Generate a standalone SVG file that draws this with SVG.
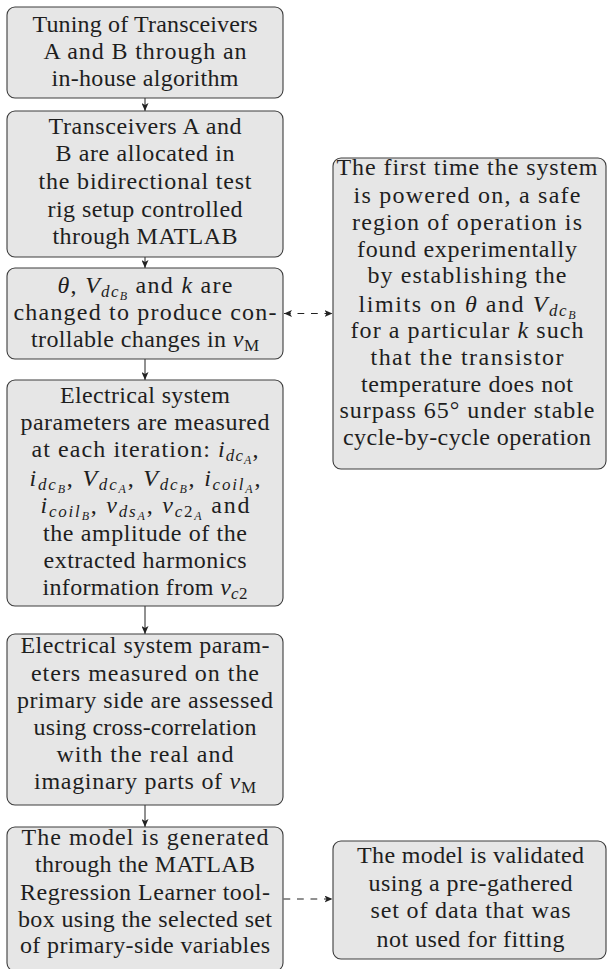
<svg xmlns="http://www.w3.org/2000/svg" width="607" height="969" viewBox="0 0 607 969">
<style>
.box{fill:#e6e6e6;stroke:#3c3c3c;stroke-width:1.1}
text{font-family:"Liberation Serif","Times New Roman",serif;font-size:24px;fill:#1e1e1e;text-anchor:middle}
.i{font-style:italic}
.s1{font-size:17px}
.s2{font-size:12px}
.c{stroke:#222;stroke-width:1;fill:none}
.d{stroke-dasharray:6.75 6.75}
</style>
<defs>
<marker id="ah" viewBox="0 0 8 7" markerWidth="8" markerHeight="7" markerUnits="userSpaceOnUse" refX="8" refY="3.5" orient="auto-start-reverse">
<path d="M0,0 L8,3.5 L0,7 L2,3.5 z" fill="#222"/>
</marker>
</defs>
<rect width="607" height="969" fill="#fff"/>
<g id="connectors">
<line class="c" x1="145" y1="98" x2="145" y2="111" marker-end="url(#ah)"/>
<line class="c" x1="145" y1="257" x2="145" y2="268" marker-end="url(#ah)"/>
<line class="c" x1="145" y1="359" x2="145" y2="380" marker-end="url(#ah)"/>
<line class="c" x1="145" y1="606" x2="145" y2="634" marker-end="url(#ah)"/>
<line class="c" x1="145" y1="805" x2="145" y2="827" marker-end="url(#ah)"/>
<line class="c d" x1="284" y1="313.5" x2="332.5" y2="313.5" marker-start="url(#ah)" marker-end="url(#ah)"/>
<line class="c d" x1="283.5" y1="899" x2="332.5" y2="899" marker-end="url(#ah)"/>
</g>
<g id="n1">
<rect class="box" x="7" y="7" width="276" height="91" rx="8"/>
<text x="145" y="31.5" textLength="225">Tuning of Transceivers</text>
<text x="145" y="58.5" textLength="203">A and B through an</text>
<text x="145" y="85.5" textLength="187">in-house algorithm</text>
</g>
<g id="n2">
<rect class="box" x="7" y="111" width="276" height="146" rx="8"/>
<text x="145" y="133.5" textLength="193">Transceivers A and</text>
<text x="145" y="161" textLength="179">B are allocated in</text>
<text x="145" y="188.7" textLength="213">the bidirectional test</text>
<text x="145" y="216.5" textLength="195">rig setup controlled</text>
<text x="145" y="244" textLength="185">through MATLAB</text>
</g>
<g id="n3">
<rect class="box" x="7" y="268" width="276" height="91" rx="8"/>
<text x="145" y="293.3" textLength="175"><tspan class="i">θ</tspan>, <tspan class="i">V</tspan><tspan class="i s1" dy="4">dc</tspan><tspan class="i s2" dy="3">B</tspan><tspan dy="-7"> and </tspan><tspan class="i">k</tspan> are</text>
<text x="145" y="320" textLength="263">changed to produce con-</text>
<text x="145" y="346.7" textLength="228">trollable changes in <tspan class="i">v</tspan><tspan class="s1" dy="4">M</tspan></text>
</g>
<g id="n4">
<rect class="box" x="7" y="380" width="276" height="226" rx="8"/>
<text x="145" y="402.7" textLength="170">Electrical system</text>
<text x="145" y="430" textLength="249">parameters are measured</text>
<text x="145" y="457" textLength="227">at each iteration: <tspan class="i">i</tspan><tspan class="i s1" dy="4">dc</tspan><tspan class="i s2" dy="3">A</tspan><tspan dy="-7">,</tspan></text>
<text x="145" y="485.5" textLength="231"><tspan class="i">i</tspan><tspan class="i s1" dy="4">dc</tspan><tspan class="i s2" dy="3">B</tspan><tspan dy="-7">, </tspan><tspan class="i">V</tspan><tspan class="i s1" dy="4">dc</tspan><tspan class="i s2" dy="3">A</tspan><tspan dy="-7">, </tspan><tspan class="i">V</tspan><tspan class="i s1" dy="4">dc</tspan><tspan class="i s2" dy="3">B</tspan><tspan dy="-7">, </tspan><tspan class="i">i</tspan><tspan class="i s1" dy="4">coil</tspan><tspan class="i s2" dy="3">A</tspan><tspan dy="-7">,</tspan></text>
<text x="145" y="513.3" textLength="209"><tspan class="i">i</tspan><tspan class="i s1" dy="4">coil</tspan><tspan class="i s2" dy="3">B</tspan><tspan dy="-7">, </tspan><tspan class="i">v</tspan><tspan class="i s1" dy="4">ds</tspan><tspan class="i s2" dy="3">A</tspan><tspan dy="-7">, </tspan><tspan class="i">v</tspan><tspan class="i s1" dy="4">c</tspan><tspan class="s1">2</tspan><tspan class="i s2" dy="3">A</tspan><tspan dy="-7"> and</tspan></text>
<text x="145" y="541" textLength="204">the amplitude of the</text>
<text x="145" y="568.3" textLength="203">extracted harmonics</text>
<text x="145" y="595" textLength="205">information from <tspan class="i">v</tspan><tspan class="i s1" dy="4">c</tspan><tspan class="s1">2</tspan></text>
</g>
<g id="n5">
<rect class="box" x="7" y="634" width="276" height="171" rx="8"/>
<text x="145" y="653.3" textLength="249">Electrical system param-</text>
<text x="145" y="680.7" textLength="228">eters measured on the</text>
<text x="145" y="708.3" textLength="256">primary side are assessed</text>
<text x="145" y="735" textLength="223">using cross-correlation</text>
<text x="145" y="761.7" textLength="177">with the real and</text>
<text x="145" y="789.3" textLength="222">imaginary parts of <tspan class="i">v</tspan><tspan class="s1" dy="4">M</tspan></text>
</g>
<g id="n6">
<rect class="box" x="7" y="827" width="276" height="144" rx="8"/>
<text x="145" y="845" textLength="247">The model is generated</text>
<text x="145" y="871.7" textLength="220">through the MATLAB</text>
<text x="145" y="899.5" textLength="250">Regression Learner tool-</text>
<text x="145" y="926.7" textLength="254">box using the selected set</text>
<text x="145" y="953.3" textLength="250">of primary-side variables</text>
</g>
<g id="n7">
<rect class="box" x="333" y="158" width="273" height="311" rx="8"/>
<text x="467" y="175" textLength="261">The first time the system</text>
<text x="467" y="203" textLength="227">is powered on, a safe</text>
<text x="467" y="230" textLength="230">region of operation is</text>
<text x="467" y="256.7" textLength="220">found experimentally</text>
<text x="467" y="283.3" textLength="199">by establishing the</text>
<text x="467" y="311.5" textLength="217">limits on <tspan class="i">θ</tspan> and <tspan class="i">V</tspan><tspan class="i s1" dy="4">dc</tspan><tspan class="i s2" dy="3">B</tspan></text>
<text x="467" y="338.3" textLength="233">for a particular <tspan class="i">k</tspan> such</text>
<text x="467" y="365" textLength="193">that the transistor</text>
<text x="467" y="391.7" textLength="212">temperature does not</text>
<text x="467" y="418.3" textLength="255">surpass 65° under stable</text>
<text x="467" y="445" textLength="248">cycle-by-cycle operation</text>
</g>
<g id="n8">
<rect class="box" x="333" y="841" width="273" height="118" rx="8"/>
<text x="470.5" y="863.3" textLength="227">The model is validated</text>
<text x="470.5" y="890.7" textLength="204">using a pre-gathered</text>
<text x="470.5" y="918.3" textLength="200">set of data that was</text>
<text x="470.5" y="946.7" textLength="188">not used for fitting</text>
</g>
</svg>
